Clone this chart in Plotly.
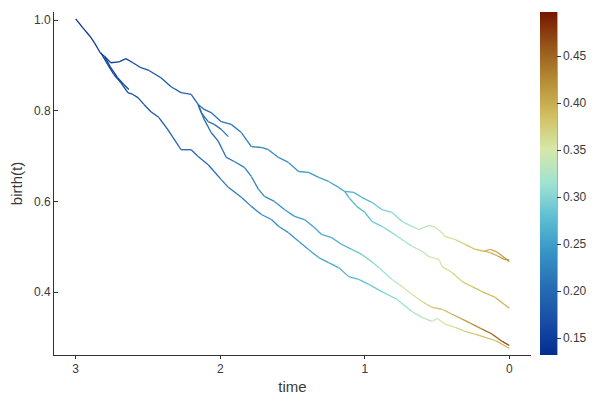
"""
 Birth rate paths along time, coloured by a rate value (roma-like scale)
"""

# imports
import plotly.graph_objects as go
from plotly.colors import sample_colorscale

#### Data

# trunk + top branch
t_a = [3.0, 2.95, 2.9, 2.87, 2.83, 2.8, 2.757, 2.7, 2.653, 2.604, 2.549, 2.493, 2.41, 2.34,
       2.271, 2.201, 2.153, 2.111, 2.063, 1.993, 1.924, 1.854, 1.785, 1.715, 1.667, 1.597,
       1.528, 1.458, 1.389, 1.319, 1.25, 1.181, 1.139, 1.076, 1.021, 0.951, 0.882, 0.813,
       0.743, 0.674, 0.625, 0.556, 0.514, 0.465, 0.444, 0.375, 0.306, 0.236, 0.174, 0.132,
       0.083, 0.035, 0.0]
b_a = [1.003, 0.983, 0.964, 0.95, 0.928, 0.92, 0.906, 0.908, 0.915, 0.906, 0.895, 0.889,
       0.873, 0.853, 0.84, 0.836, 0.814, 0.803, 0.796, 0.776, 0.77, 0.752, 0.721, 0.719,
       0.714, 0.697, 0.686, 0.666, 0.664, 0.653, 0.644, 0.631, 0.622, 0.62, 0.609, 0.598,
       0.582, 0.576, 0.556, 0.545, 0.538, 0.547, 0.543, 0.531, 0.522, 0.516, 0.505, 0.494,
       0.49, 0.494, 0.488, 0.476, 0.467]
c_a = [0.14, 0.14, 0.145, 0.145, 0.15, 0.15, 0.155, 0.16, 0.16, 0.165, 0.17, 0.175, 0.18,
       0.185, 0.19, 0.195, 0.2, 0.2, 0.205, 0.21, 0.215, 0.22, 0.225, 0.23, 0.23, 0.235,
       0.24, 0.245, 0.245, 0.25, 0.255, 0.26, 0.26, 0.265, 0.27, 0.28, 0.29, 0.3, 0.31,
       0.32, 0.325, 0.335, 0.34, 0.35, 0.355, 0.365, 0.375, 0.385, 0.39, 0.395, 0.405,
       0.415, 0.42]

# branch off the top line near t=1.1
t_b = [1.139, 1.111, 1.056, 1.0, 0.951, 0.882, 0.813, 0.743, 0.674, 0.604, 0.556, 0.486,
       0.465, 0.396, 0.326, 0.257, 0.188, 0.097, 0.0]
b_b = [0.622, 0.609, 0.589, 0.576, 0.556, 0.545, 0.531, 0.516, 0.501, 0.49, 0.478, 0.472,
       0.456, 0.443, 0.423, 0.412, 0.401, 0.388, 0.364]
c_b = [0.26, 0.265, 0.27, 0.275, 0.285, 0.295, 0.305, 0.315, 0.325, 0.335, 0.345, 0.35,
       0.355, 0.365, 0.37, 0.38, 0.385, 0.39, 0.4]

# branch off the top line near t=2.15
t_c = [2.153, 2.111, 2.063, 2.014, 1.958, 1.903, 1.833, 1.785, 1.736, 1.694, 1.625, 1.556,
       1.486, 1.417, 1.347, 1.299, 1.229, 1.16, 1.09, 1.021, 0.951, 0.903, 0.813, 0.743,
       0.674, 0.604, 0.535, 0.465, 0.396, 0.326, 0.257, 0.188, 0.118, 0.049, 0.0]
b_c = [0.814, 0.781, 0.752, 0.733, 0.697, 0.688, 0.675, 0.655, 0.627, 0.611, 0.6, 0.582,
       0.567, 0.56, 0.542, 0.527, 0.52, 0.505, 0.494, 0.483, 0.467, 0.454, 0.428, 0.412,
       0.395, 0.379, 0.366, 0.362, 0.351, 0.34, 0.329, 0.318, 0.307, 0.291, 0.282]
c_c = [0.2, 0.2, 0.205, 0.21, 0.21, 0.215, 0.22, 0.225, 0.23, 0.23, 0.235, 0.24, 0.245,
       0.25, 0.255, 0.26, 0.265, 0.27, 0.28, 0.29, 0.3, 0.31, 0.325, 0.34, 0.35, 0.365,
       0.375, 0.385, 0.395, 0.405, 0.415, 0.43, 0.445, 0.46, 0.475]

# lowest branch, off the trunk near t=2.83
t_d = [2.826, 2.778, 2.736, 2.688, 2.639, 2.604, 2.569, 2.528, 2.479, 2.424, 2.361, 2.271,
       2.201, 2.153, 2.083, 2.042, 1.993, 1.944, 1.854, 1.785, 1.715, 1.646, 1.597, 1.528,
       1.458, 1.389, 1.319, 1.25, 1.181, 1.111, 1.042, 0.972, 0.882, 0.778, 0.674, 0.604,
       0.535, 0.5, 0.444, 0.375, 0.306, 0.236, 0.167, 0.097, 0.0]
b_d = [0.928, 0.902, 0.88, 0.862, 0.84, 0.836, 0.829, 0.814, 0.798, 0.785, 0.758, 0.714,
       0.714, 0.699, 0.681, 0.666, 0.648, 0.631, 0.609, 0.589, 0.571, 0.56, 0.545, 0.531,
       0.512, 0.494, 0.476, 0.465, 0.454, 0.434, 0.428, 0.417, 0.401, 0.384, 0.357, 0.344,
       0.335, 0.342, 0.329, 0.322, 0.313, 0.307, 0.3, 0.293, 0.276]
c_d = [0.15, 0.15, 0.155, 0.16, 0.16, 0.165, 0.165, 0.17, 0.175, 0.18, 0.185, 0.19, 0.195,
       0.2, 0.205, 0.205, 0.21, 0.215, 0.22, 0.225, 0.23, 0.235, 0.235, 0.24, 0.245, 0.25,
       0.255, 0.26, 0.265, 0.27, 0.275, 0.285, 0.295, 0.305, 0.32, 0.33, 0.34, 0.345, 0.35,
       0.36, 0.37, 0.38, 0.385, 0.39, 0.4]

# short dead-end branches
t_e = [2.153, 2.132, 2.083, 2.042, 1.993, 1.944]
b_e = [0.814, 0.796, 0.776, 0.77, 0.759, 0.743]
c_e = [0.2, 0.2, 0.205, 0.21, 0.21, 0.215]

t_f = [2.8, 2.757, 2.71, 2.667, 2.632]
b_f = [0.92, 0.895, 0.873, 0.858, 0.847]
c_f = [0.15, 0.155, 0.16, 0.16, 0.165]

t_g = [0.174, 0.132, 0.083, 0.035, 0.0]
b_g = [0.49, 0.487, 0.48, 0.472, 0.471]
c_g = [0.39, 0.395, 0.405, 0.415, 0.425]

cbar_ticks = [0.15, 0.20, 0.25, 0.30, 0.35, 0.40, 0.45]
x_ticks = [0, 1, 2, 3]
y_ticks = [0.4, 0.6, 0.8, 1.0]

CMIN, CMAX = 0.132, 0.497

# roma-like scale, blue at the low end
ROMA = [[0.0, "rgb(3,45,145)"], [0.1, "rgb(24,78,165)"], [0.2, "rgb(38,110,180)"],
        [0.3, "rgb(55,148,198)"], [0.4, "rgb(92,190,210)"], [0.5, "rgb(160,226,210)"],
        [0.6, "rgb(214,232,168)"], [0.7, "rgb(208,190,96)"], [0.8, "rgb(182,140,52)"],
        [0.9, "rgb(150,86,26)"], [1.0, "rgb(118,22,0)"]]

FONT = "Liberation Sans, Arial, Helvetica, sans-serif"
TXT = "#3a3a3a"


def colour(v):
    """colour of a value on the scale"""
    f = min(max((v - CMIN) / (CMAX - CMIN), 0.0), 1.0)
    return sample_colorscale(ROMA, [f])[0]


def add_path(fig, t, b, c):
    """adds a path as small segments, each one coloured"""
    for i in range(len(t) - 1):
        fig.add_trace(go.Scatter(x=[t[i], t[i + 1]], y=[b[i], b[i + 1]], mode="lines",
                                 line=dict(color=colour((c[i] + c[i + 1]) / 2), width=1.3),
                                 showlegend=False, hoverinfo="skip"))


def main():
    fig = go.Figure()
    for t, b, c in [(t_a, b_a, c_a), (t_f, b_f, c_f), (t_d, b_d, c_d), (t_e, b_e, c_e),
                    (t_c, b_c, c_c), (t_b, b_b, c_b), (t_g, b_g, c_g)]:
        add_path(fig, t, b, c)

    # colour bar only
    fig.add_trace(go.Scatter(
        x=[None, None], y=[None, None], mode="markers", showlegend=False, hoverinfo="skip",
        marker=dict(color=[CMIN, CMAX], cmin=CMIN, cmax=CMAX, colorscale=ROMA, size=0,
                    showscale=True,
                    colorbar=dict(x=1.019, xanchor="left", y=0, yanchor="bottom",
                                  len=343, lenmode="pixels", thickness=17, outlinewidth=0,
                                  tickvals=cbar_ticks, tickformat=".2f", ticks="outside",
                                  ticklen=4, tickcolor="#333", xpad=0, ypad=0,
                                  tickfont=dict(family=FONT, size=12, color=TXT)))))

    # page body has an 8px margin, so the figure is 8px smaller than the window
    fig.update_layout(
        width=592, height=392, margin=dict(l=46, r=69, t=4, b=45, autoexpand=False),
        paper_bgcolor="white", plot_bgcolor="white",
        font=dict(family=FONT, color=TXT),
        xaxis=dict(range=[3.15, -0.15], tickvals=x_ticks, showgrid=False, zeroline=False,
                   showline=True, linecolor="#333", linewidth=1, ticks="outside", ticklen=3,
                   tickcolor="#333", tickfont=dict(size=12), automargin=False,
                   title=dict(text="time", font=dict(size=15), standoff=6)),
        yaxis=dict(range=[0.261, 1.018], tickvals=y_ticks, tickformat=".1f", showgrid=False,
                   zeroline=False, showline=True, linecolor="#333", linewidth=1,
                   ticks="inside", ticklen=4, tickcolor="#333", tickfont=dict(size=12),
                   automargin=False,
                   title=dict(text="birth(t)", font=dict(size=15), standoff=16)),
        shapes=[dict(type="line", xref="paper", yref="paper", x0=1.0545, x1=1.0545,
                     y0=0, y1=1.0, line=dict(color="#555", width=1))],
    )
    fig.write_html("out.html")


if __name__ == "__main__":
    main()
